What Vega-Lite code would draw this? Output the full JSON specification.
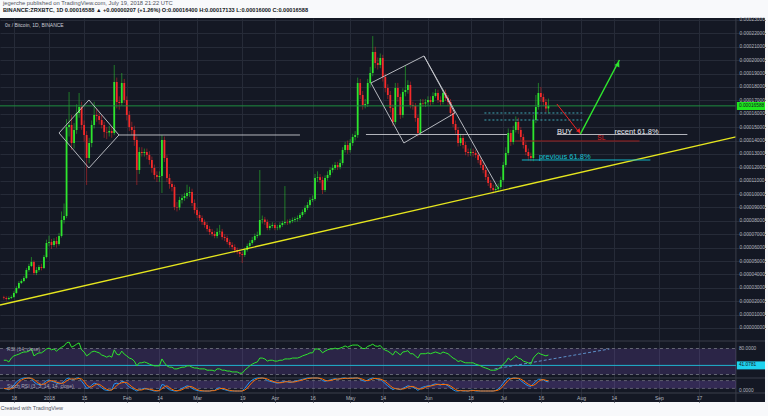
{
"$schema": "https://vega.github.io/schema/vega-lite/v6.json",
"autosize": {"type": "none"},
"width": 765,
"height": 384,
"padding": {"left": 0, "top": 18, "right": 3, "bottom": 14},
"background": "#f8f9fb",
"title": {
  "text": "jegerche published on TradingView.com, July 19, 2018 21:22 UTC",
  "subtitle": "BINANCE:ZRXBTC, 1D  0.00016588 ▲ +0.00000207 (+1.26%)  O:0.00016400  H:0.00017133  L:0.00016000  C:0.00016588",
  "anchor": "start", "frame": "group", "dx": 3, "offset": 3,
  "font": "Liberation Sans", "fontSize": 5.8, "fontWeight": "normal", "color": "#50535e",
  "subtitleFont": "Liberation Sans", "subtitleFontSize": 5.6, "subtitleFontWeight": "bold", "subtitleColor": "#131722", "subtitlePadding": 2.5
},
"config": {"view": {"fill": "#141824", "stroke": null}, "font": "Liberation Sans"},
"datasets": {
"candles": [
{"d":"2017-12-14","o":2290,"h":2410,"l":2120,"c":2240,"r":53,"k":20,"s":20},
{"d":"2017-12-15","o":2240,"h":2360,"l":2050,"c":2166,"r":53,"k":15,"s":18},
{"d":"2017-12-16","o":2166,"h":2360,"l":2090,"c":2240,"r":49,"k":10,"s":15},
{"d":"2017-12-17","o":2240,"h":2440,"l":2160,"c":2315,"r":58,"k":25,"s":17},
{"d":"2017-12-18","o":2315,"h":2750,"l":2250,"c":2614,"r":63,"k":45,"s":27},
{"d":"2017-12-19","o":2614,"h":3120,"l":2550,"c":2987,"r":65,"k":70,"s":47},
{"d":"2017-12-20","o":2987,"h":3500,"l":2900,"c":3361,"r":67,"k":85,"s":67},
{"d":"2017-12-21","o":3361,"h":3650,"l":3280,"c":3510,"r":70,"k":95,"s":83},
{"d":"2017-12-22","o":3510,"h":3880,"l":3420,"c":3734,"r":72,"k":100,"s":93},
{"d":"2017-12-23","o":3734,"h":4480,"l":3650,"c":4331,"r":72,"k":100,"s":98},
{"d":"2017-12-24","o":4331,"h":4800,"l":4200,"c":4630,"r":74,"k":100,"s":100},
{"d":"2017-12-25","o":4630,"h":5300,"l":4550,"c":4929,"r":79,"k":95,"s":98},
{"d":"2017-12-26","o":4929,"h":5050,"l":3950,"c":4107,"r":63,"k":70,"s":88},
{"d":"2017-12-27","o":4107,"h":4550,"l":3950,"c":4331,"r":67,"k":55,"s":73},
{"d":"2017-12-28","o":4331,"h":4700,"l":4200,"c":4555,"r":70,"k":50,"s":58},
{"d":"2017-12-29","o":4555,"h":4800,"l":4300,"c":4481,"r":70,"k":45,"s":50},
{"d":"2017-12-30","o":4481,"h":5450,"l":4400,"c":5302,"r":74,"k":65,"s":53},
{"d":"2017-12-31","o":5302,"h":6600,"l":5200,"c":6348,"r":79,"k":80,"s":63},
{"d":"2018-01-01","o":6348,"h":6900,"l":6100,"c":6422,"r":81,"k":85,"s":77},
{"d":"2018-01-02","o":6422,"h":6650,"l":5900,"c":6198,"r":77,"k":75,"s":80},
{"d":"2018-01-03","o":6198,"h":6700,"l":6050,"c":6497,"r":79,"k":70,"s":77},
{"d":"2018-01-04","o":6497,"h":6800,"l":6000,"c":6273,"r":74,"k":60,"s":68},
{"d":"2018-01-05","o":6273,"h":7100,"l":6150,"c":6871,"r":79,"k":55,"s":62},
{"d":"2018-01-06","o":6871,"h":8700,"l":6750,"c":8065,"r":83,"k":60,"s":58},
{"d":"2018-01-07","o":8065,"h":9300,"l":7800,"c":8364,"r":86,"k":75,"s":63},
{"d":"2018-01-08","o":8364,"h":15600,"l":8200,"c":15011,"r":93,"k":95,"s":77},
{"d":"2018-01-09","o":15011,"h":17624,"l":14300,"c":15160,"r":95,"k":100,"s":90},
{"d":"2018-01-10","o":15160,"h":15900,"l":13300,"c":13816,"r":83,"k":85,"s":93},
{"d":"2018-01-11","o":13816,"h":15300,"l":13400,"c":14787,"r":86,"k":90,"s":92},
{"d":"2018-01-12","o":14787,"h":16700,"l":14500,"c":16056,"r":90,"k":100,"s":92},
{"d":"2018-01-13","o":16056,"h":17550,"l":15700,"c":16504,"r":93,"k":100,"s":97},
{"d":"2018-01-14","o":16504,"h":16900,"l":14800,"c":15160,"r":77,"k":75,"s":92},
{"d":"2018-01-15","o":15160,"h":15500,"l":13900,"c":14413,"r":72,"k":50,"s":75},
{"d":"2018-01-16","o":14413,"h":14700,"l":10680,"c":12696,"r":63,"k":20,"s":48},
{"d":"2018-01-17","o":12696,"h":14200,"l":12300,"c":13816,"r":67,"k":25,"s":32},
{"d":"2018-01-18","o":13816,"h":15500,"l":13500,"c":15160,"r":72,"k":45,"s":30},
{"d":"2018-01-19","o":15160,"h":16900,"l":14900,"c":15907,"r":74,"k":60,"s":43},
{"d":"2018-01-20","o":15907,"h":16400,"l":15400,"c":15830,"r":72,"k":55,"s":53},
{"d":"2018-01-21","o":15830,"h":16100,"l":15200,"c":15533,"r":70,"k":40,"s":52},
{"d":"2018-01-22","o":15533,"h":15900,"l":14900,"c":15160,"r":65,"k":25,"s":40},
{"d":"2018-01-23","o":15160,"h":15400,"l":14200,"c":14637,"r":63,"k":10,"s":25},
{"d":"2018-01-24","o":14637,"h":15000,"l":14100,"c":14600,"r":60,"k":5,"s":13},
{"d":"2018-01-25","o":14600,"h":15100,"l":14300,"c":14712,"r":63,"k":5,"s":7},
{"d":"2018-01-26","o":14712,"h":15000,"l":14200,"c":14563,"r":60,"k":10,"s":7},
{"d":"2018-01-27","o":14563,"h":19641,"l":14400,"c":18371,"r":77,"k":55,"s":23},
{"d":"2018-01-28","o":18371,"h":18700,"l":16400,"c":16878,"r":67,"k":60,"s":42},
{"d":"2018-01-29","o":16878,"h":17300,"l":16300,"c":16803,"r":65,"k":55,"s":57},
{"d":"2018-01-30","o":16803,"h":19043,"l":16600,"c":18297,"r":74,"k":75,"s":63},
{"d":"2018-01-31","o":18297,"h":18600,"l":16800,"c":17027,"r":67,"k":70,"s":67},
{"d":"2018-02-01","o":17027,"h":17300,"l":15500,"c":15907,"r":63,"k":50,"s":65},
{"d":"2018-02-02","o":15907,"h":16200,"l":14700,"c":15011,"r":58,"k":30,"s":50},
{"d":"2018-02-03","o":15011,"h":15400,"l":14400,"c":14787,"r":56,"k":20,"s":33},
{"d":"2018-02-04","o":14787,"h":15100,"l":13600,"c":14040,"r":51,"k":10,"s":20},
{"d":"2018-02-05","o":14040,"h":14300,"l":10680,"c":11799,"r":40,"k":0,"s":10},
{"d":"2018-02-06","o":11799,"h":13500,"l":11500,"c":13144,"r":47,"k":10,"s":7},
{"d":"2018-02-07","o":13144,"h":13500,"l":12800,"c":13069,"r":47,"k":15,"s":8},
{"d":"2018-02-08","o":13069,"h":13400,"l":12800,"c":13144,"r":49,"k":20,"s":15},
{"d":"2018-02-09","o":13144,"h":13400,"l":12600,"c":12920,"r":47,"k":15,"s":17},
{"d":"2018-02-10","o":12920,"h":13200,"l":12200,"c":12546,"r":44,"k":10,"s":15},
{"d":"2018-02-11","o":12546,"h":12800,"l":11600,"c":11949,"r":42,"k":5,"s":10},
{"d":"2018-02-12","o":11949,"h":12200,"l":11100,"c":11426,"r":40,"k":0,"s":5},
{"d":"2018-02-13","o":11426,"h":11700,"l":10900,"c":11277,"r":40,"k":0,"s":2},
{"d":"2018-02-14","o":11277,"h":11700,"l":10900,"c":11351,"r":40,"k":5,"s":2},
{"d":"2018-02-15","o":11351,"h":14400,"l":10082,"c":14040,"r":56,"k":50,"s":18},
{"d":"2018-02-16","o":14040,"h":14300,"l":12400,"c":12696,"r":47,"k":45,"s":33},
{"d":"2018-02-17","o":12696,"h":12900,"l":10900,"c":11202,"r":40,"k":25,"s":40},
{"d":"2018-02-18","o":11202,"h":11500,"l":10400,"c":10754,"r":37,"k":10,"s":27},
{"d":"2018-02-19","o":10754,"h":11000,"l":10200,"c":10530,"r":37,"k":5,"s":13},
{"d":"2018-02-20","o":10530,"h":10700,"l":8800,"c":9036,"r":33,"k":0,"s":5},
{"d":"2018-02-21","o":9036,"h":9400,"l":8700,"c":9000,"r":33,"k":0,"s":2},
{"d":"2018-02-22","o":9000,"h":9800,"l":8800,"c":9559,"r":35,"k":10,"s":3},
{"d":"2018-02-23","o":9559,"h":9950,"l":9300,"c":9708,"r":37,"k":20,"s":10},
{"d":"2018-02-24","o":9708,"h":10100,"l":9500,"c":9858,"r":37,"k":30,"s":20},
{"d":"2018-02-25","o":9858,"h":10700,"l":9650,"c":10082,"r":40,"k":40,"s":30},
{"d":"2018-02-26","o":10082,"h":10550,"l":9800,"c":10156,"r":40,"k":35,"s":35},
{"d":"2018-02-27","o":10156,"h":10400,"l":9100,"c":9335,"r":37,"k":20,"s":32},
{"d":"2018-02-28","o":9335,"h":9600,"l":8550,"c":8812,"r":35,"k":10,"s":22},
{"d":"2018-03-01","o":8812,"h":9000,"l":8200,"c":8439,"r":35,"k":5,"s":12},
{"d":"2018-03-02","o":8439,"h":8700,"l":8000,"c":8215,"r":33,"k":0,"s":5},
{"d":"2018-03-03","o":8215,"h":8400,"l":7700,"c":7916,"r":33,"k":0,"s":2},
{"d":"2018-03-04","o":7916,"h":8100,"l":7500,"c":7692,"r":33,"k":0,"s":0},
{"d":"2018-03-05","o":7692,"h":7900,"l":7200,"c":7393,"r":30,"k":0,"s":0},
{"d":"2018-03-06","o":7393,"h":7600,"l":6950,"c":7169,"r":30,"k":0,"s":0},
{"d":"2018-03-07","o":7169,"h":7400,"l":6850,"c":7020,"r":30,"k":5,"s":2},
{"d":"2018-03-08","o":7020,"h":7250,"l":6700,"c":6871,"r":28,"k":5,"s":3},
{"d":"2018-03-09","o":6871,"h":7450,"l":6700,"c":7169,"r":33,"k":20,"s":10},
{"d":"2018-03-10","o":7169,"h":7700,"l":7000,"c":7200,"r":33,"k":25,"s":17},
{"d":"2018-03-11","o":7200,"h":7400,"l":6600,"c":6796,"r":30,"k":15,"s":20},
{"d":"2018-03-12","o":6796,"h":7000,"l":6500,"c":6721,"r":30,"k":10,"s":17},
{"d":"2018-03-13","o":6721,"h":6900,"l":6250,"c":6422,"r":28,"k":5,"s":10},
{"d":"2018-03-14","o":6422,"h":6600,"l":6000,"c":6198,"r":28,"k":0,"s":5},
{"d":"2018-03-15","o":6198,"h":6400,"l":5850,"c":6049,"r":26,"k":0,"s":2},
{"d":"2018-03-16","o":6049,"h":6250,"l":5600,"c":5825,"r":26,"k":0,"s":0},
{"d":"2018-03-17","o":5825,"h":6000,"l":5500,"c":5676,"r":26,"k":0,"s":0},
{"d":"2018-03-18","o":5676,"h":5850,"l":5300,"c":5526,"r":23,"k":0,"s":0},
{"d":"2018-03-19","o":5526,"h":5700,"l":4854,"c":5452,"r":23,"k":0,"s":0},
{"d":"2018-03-20","o":5452,"h":6000,"l":5300,"c":5825,"r":30,"k":20,"s":7},
{"d":"2018-03-21","o":5825,"h":6300,"l":5700,"c":6124,"r":35,"k":45,"s":22},
{"d":"2018-03-22","o":6124,"h":6550,"l":6000,"c":6348,"r":40,"k":70,"s":45},
{"d":"2018-03-23","o":6348,"h":6800,"l":6200,"c":6572,"r":44,"k":85,"s":67},
{"d":"2018-03-24","o":6572,"h":7050,"l":6450,"c":6871,"r":47,"k":95,"s":83},
{"d":"2018-03-25","o":6871,"h":7200,"l":6700,"c":6945,"r":49,"k":100,"s":93},
{"d":"2018-03-26","o":6945,"h":11799,"l":6850,"c":8065,"r":58,"k":100,"s":98},
{"d":"2018-03-27","o":8065,"h":8400,"l":7800,"c":8100,"r":58,"k":100,"s":100},
{"d":"2018-03-28","o":8100,"h":8300,"l":7700,"c":7916,"r":56,"k":95,"s":98},
{"d":"2018-03-29","o":7916,"h":8100,"l":7300,"c":7468,"r":51,"k":80,"s":92},
{"d":"2018-03-30","o":7468,"h":7800,"l":7300,"c":7617,"r":53,"k":75,"s":83},
{"d":"2018-03-31","o":7617,"h":7900,"l":7450,"c":7692,"r":53,"k":70,"s":75},
{"d":"2018-04-01","o":7692,"h":7850,"l":7300,"c":7468,"r":51,"k":65,"s":70},
{"d":"2018-04-02","o":7468,"h":7700,"l":7300,"c":7500,"r":51,"k":60,"s":65},
{"d":"2018-04-03","o":7500,"h":7900,"l":7350,"c":7692,"r":53,"k":65,"s":63},
{"d":"2018-04-04","o":7692,"h":8000,"l":7550,"c":7841,"r":53,"k":70,"s":65},
{"d":"2018-04-05","o":7841,"h":10600,"l":7700,"c":7916,"r":56,"k":75,"s":70},
{"d":"2018-04-06","o":7916,"h":8100,"l":7700,"c":7880,"r":56,"k":70,"s":72},
{"d":"2018-04-07","o":7880,"h":8150,"l":7750,"c":7991,"r":56,"k":65,"s":70},
{"d":"2018-04-08","o":7991,"h":8250,"l":7850,"c":8065,"r":58,"k":70,"s":68},
{"d":"2018-04-09","o":8065,"h":8300,"l":7900,"c":8140,"r":58,"k":75,"s":70},
{"d":"2018-04-10","o":8140,"h":8400,"l":7950,"c":8215,"r":58,"k":80,"s":75},
{"d":"2018-04-11","o":8215,"h":8600,"l":8050,"c":8439,"r":60,"k":85,"s":80},
{"d":"2018-04-12","o":8439,"h":8850,"l":8300,"c":8663,"r":63,"k":90,"s":85},
{"d":"2018-04-13","o":8663,"h":9150,"l":8500,"c":8962,"r":65,"k":95,"s":90},
{"d":"2018-04-14","o":8962,"h":9400,"l":8800,"c":9186,"r":67,"k":100,"s":95},
{"d":"2018-04-15","o":9186,"h":9750,"l":9050,"c":9559,"r":70,"k":100,"s":98},
{"d":"2018-04-16","o":9559,"h":9900,"l":9400,"c":9634,"r":70,"k":100,"s":100},
{"d":"2018-04-17","o":9634,"h":11500,"l":9500,"c":11202,"r":79,"k":100,"s":100},
{"d":"2018-04-18","o":11202,"h":11700,"l":10900,"c":11250,"r":79,"k":100,"s":100},
{"d":"2018-04-19","o":11250,"h":11500,"l":10800,"c":11053,"r":77,"k":95,"s":98},
{"d":"2018-04-20","o":11053,"h":11300,"l":10000,"c":10306,"r":70,"k":80,"s":92},
{"d":"2018-04-21","o":10306,"h":11400,"l":10150,"c":11202,"r":74,"k":75,"s":83},
{"d":"2018-04-22","o":11202,"h":11700,"l":11000,"c":11426,"r":77,"k":80,"s":78},
{"d":"2018-04-23","o":11426,"h":12000,"l":11250,"c":11799,"r":79,"k":85,"s":80},
{"d":"2018-04-24","o":11799,"h":12200,"l":11600,"c":11949,"r":79,"k":90,"s":85},
{"d":"2018-04-25","o":11949,"h":12400,"l":11800,"c":12173,"r":81,"k":95,"s":90},
{"d":"2018-04-26","o":12173,"h":12400,"l":11800,"c":12023,"r":79,"k":90,"s":92},
{"d":"2018-04-27","o":12023,"h":12600,"l":11850,"c":12322,"r":81,"k":95,"s":93},
{"d":"2018-04-28","o":12322,"h":13500,"l":12150,"c":13293,"r":83,"k":100,"s":95},
{"d":"2018-04-29","o":13293,"h":13900,"l":13100,"c":13666,"r":86,"k":100,"s":98},
{"d":"2018-04-30","o":13666,"h":14000,"l":13000,"c":13293,"r":83,"k":95,"s":98},
{"d":"2018-05-01","o":13293,"h":14100,"l":13100,"c":13816,"r":86,"k":100,"s":98},
{"d":"2018-05-02","o":13816,"h":14500,"l":13600,"c":14264,"r":88,"k":100,"s":98},
{"d":"2018-05-03","o":14264,"h":14700,"l":14000,"c":14413,"r":88,"k":100,"s":100},
{"d":"2018-05-04","o":14413,"h":18700,"l":14200,"c":18297,"r":88,"k":100,"s":100},
{"d":"2018-05-05","o":18297,"h":18600,"l":17100,"c":17400,"r":84,"k":90,"s":97},
{"d":"2018-05-06","o":17400,"h":17700,"l":16300,"c":16654,"r":80,"k":80,"s":90},
{"d":"2018-05-07","o":16654,"h":17100,"l":16400,"c":16728,"r":80,"k":75,"s":82},
{"d":"2018-05-08","o":16728,"h":18600,"l":16500,"c":18297,"r":85,"k":85,"s":80},
{"d":"2018-05-09","o":18297,"h":19500,"l":18000,"c":19043,"r":87,"k":95,"s":85},
{"d":"2018-05-10","o":19043,"h":21800,"l":18800,"c":20612,"r":90,"k":100,"s":93},
{"d":"2018-05-11","o":20612,"h":21000,"l":19400,"c":19790,"r":86,"k":95,"s":97},
{"d":"2018-05-12","o":19790,"h":20200,"l":19300,"c":19641,"r":85,"k":90,"s":95},
{"d":"2018-05-13","o":19641,"h":20500,"l":19400,"c":20164,"r":87,"k":90,"s":92},
{"d":"2018-05-14","o":20164,"h":20400,"l":18400,"c":18745,"r":80,"k":75,"s":85},
{"d":"2018-05-15","o":18745,"h":19000,"l":17600,"c":17923,"r":76,"k":55,"s":73},
{"d":"2018-05-16","o":17923,"h":18200,"l":17100,"c":17400,"r":74,"k":40,"s":57},
{"d":"2018-05-17","o":17400,"h":17700,"l":16100,"c":16430,"r":70,"k":25,"s":40},
{"d":"2018-05-18","o":16430,"h":16700,"l":15100,"c":15384,"r":65,"k":10,"s":25},
{"d":"2018-05-19","o":15384,"h":18300,"l":15200,"c":17923,"r":74,"k":20,"s":18},
{"d":"2018-05-20","o":17923,"h":18300,"l":16900,"c":17251,"r":70,"k":15,"s":15},
{"d":"2018-05-21","o":17251,"h":17500,"l":15600,"c":15907,"r":65,"k":10,"s":15},
{"d":"2018-05-22","o":15907,"h":17900,"l":15700,"c":17624,"r":72,"k":20,"s":15},
{"d":"2018-05-23","o":17624,"h":19600,"l":17300,"c":17774,"r":73,"k":30,"s":20},
{"d":"2018-05-24","o":17774,"h":18500,"l":17500,"c":18147,"r":75,"k":40,"s":30},
{"d":"2018-05-25","o":18147,"h":18400,"l":16400,"c":16654,"r":68,"k":35,"s":35},
{"d":"2018-05-26","o":16654,"h":16900,"l":16300,"c":16579,"r":68,"k":30,"s":35},
{"d":"2018-05-27","o":16579,"h":16800,"l":15400,"c":15683,"r":63,"k":20,"s":28},
{"d":"2018-05-28","o":15683,"h":15900,"l":14300,"c":14563,"r":58,"k":5,"s":18},
{"d":"2018-05-29","o":14563,"h":17100,"l":14400,"c":16803,"r":68,"k":20,"s":15},
{"d":"2018-05-30","o":16803,"h":17100,"l":16500,"c":16760,"r":68,"k":30,"s":18},
{"d":"2018-05-31","o":16760,"h":17100,"l":16500,"c":16850,"r":68,"k":35,"s":28},
{"d":"2018-06-01","o":16850,"h":17300,"l":16600,"c":17027,"r":70,"k":40,"s":35},
{"d":"2018-06-02","o":17027,"h":17300,"l":16600,"c":16878,"r":68,"k":40,"s":38},
{"d":"2018-06-03","o":16878,"h":17600,"l":16700,"c":17326,"r":70,"k":50,"s":43},
{"d":"2018-06-04","o":17326,"h":17850,"l":17200,"c":17550,"r":72,"k":55,"s":48},
{"d":"2018-06-05","o":17550,"h":17800,"l":16800,"c":17027,"r":70,"k":50,"s":52},
{"d":"2018-06-06","o":17027,"h":17300,"l":16600,"c":16878,"r":68,"k":45,"s":50},
{"d":"2018-06-07","o":16878,"h":17800,"l":16700,"c":17550,"r":72,"k":55,"s":50},
{"d":"2018-06-08","o":17550,"h":17800,"l":16950,"c":17176,"r":70,"k":50,"s":50},
{"d":"2018-06-09","o":17176,"h":17400,"l":16600,"c":16878,"r":68,"k":40,"s":48},
{"d":"2018-06-10","o":16878,"h":17100,"l":15800,"c":16056,"r":63,"k":25,"s":38},
{"d":"2018-06-11","o":16056,"h":16300,"l":15000,"c":15235,"r":58,"k":10,"s":25},
{"d":"2018-06-12","o":15235,"h":15500,"l":14500,"c":14787,"r":55,"k":0,"s":12},
{"d":"2018-06-13","o":14787,"h":15000,"l":13550,"c":13816,"r":50,"k":0,"s":3},
{"d":"2018-06-14","o":13816,"h":14500,"l":13600,"c":14189,"r":52,"k":5,"s":2},
{"d":"2018-06-15","o":14189,"h":14400,"l":13400,"c":13666,"r":49,"k":0,"s":2},
{"d":"2018-06-16","o":13666,"h":13900,"l":12900,"c":13144,"r":47,"k":0,"s":2},
{"d":"2018-06-17","o":13144,"h":13400,"l":12800,"c":13069,"r":47,"k":0,"s":0},
{"d":"2018-06-18","o":13069,"h":13400,"l":12850,"c":13144,"r":47,"k":5,"s":2},
{"d":"2018-06-19","o":13144,"h":13400,"l":12800,"c":13069,"r":47,"k":5,"s":3},
{"d":"2018-06-20","o":13069,"h":13300,"l":12700,"c":12920,"r":44,"k":0,"s":3},
{"d":"2018-06-21","o":12920,"h":13150,"l":12300,"c":12546,"r":42,"k":0,"s":2},
{"d":"2018-06-22","o":12546,"h":12750,"l":11950,"c":12173,"r":40,"k":0,"s":0},
{"d":"2018-06-23","o":12173,"h":12400,"l":11550,"c":11799,"r":37,"k":0,"s":0},
{"d":"2018-06-24","o":11799,"h":12000,"l":11050,"c":11277,"r":35,"k":0,"s":0},
{"d":"2018-06-25","o":11277,"h":11500,"l":10600,"c":10829,"r":33,"k":0,"s":0},
{"d":"2018-06-26","o":10829,"h":11050,"l":10250,"c":10455,"r":30,"k":0,"s":0},
{"d":"2018-06-27","o":10455,"h":10700,"l":10050,"c":10306,"r":30,"k":0,"s":0},
{"d":"2018-06-28","o":10306,"h":10700,"l":10100,"c":10380,"r":30,"k":5,"s":2},
{"d":"2018-06-29","o":10380,"h":10800,"l":10150,"c":10530,"r":33,"k":15,"s":7},
{"d":"2018-06-30","o":10530,"h":11300,"l":10350,"c":11053,"r":37,"k":35,"s":18},
{"d":"2018-07-01","o":11053,"h":12400,"l":10900,"c":12173,"r":44,"k":60,"s":37},
{"d":"2018-07-02","o":12173,"h":13500,"l":12000,"c":13069,"r":49,"k":85,"s":60},
{"d":"2018-07-03","o":13069,"h":14900,"l":12900,"c":14563,"r":58,"k":100,"s":82},
{"d":"2018-07-04","o":14563,"h":14800,"l":13600,"c":13890,"r":53,"k":95,"s":93},
{"d":"2018-07-05","o":13890,"h":15100,"l":13700,"c":14787,"r":58,"k":100,"s":98},
{"d":"2018-07-06","o":14787,"h":15800,"l":14600,"c":15384,"r":63,"k":100,"s":98},
{"d":"2018-07-07","o":15384,"h":15700,"l":14500,"c":14787,"r":58,"k":95,"s":98},
{"d":"2018-07-08","o":14787,"h":15000,"l":14000,"c":14264,"r":56,"k":80,"s":92},
{"d":"2018-07-09","o":14264,"h":14500,"l":13400,"c":13666,"r":51,"k":65,"s":80},
{"d":"2018-07-10","o":13666,"h":13900,"l":12900,"c":13144,"r":49,"k":50,"s":65},
{"d":"2018-07-11","o":13144,"h":13400,"l":12500,"c":12845,"r":47,"k":40,"s":52},
{"d":"2018-07-12","o":12845,"h":13100,"l":12450,"c":12696,"r":44,"k":35,"s":42},
{"d":"2018-07-13","o":12696,"h":15900,"l":12450,"c":15533,"r":58,"k":55,"s":43},
{"d":"2018-07-14","o":15533,"h":17400,"l":15300,"c":16504,"r":65,"k":75,"s":55},
{"d":"2018-07-15","o":16504,"h":18300,"l":16300,"c":17550,"r":70,"k":90,"s":73},
{"d":"2018-07-16","o":17550,"h":18000,"l":16900,"c":17251,"r":67,"k":90,"s":85},
{"d":"2018-07-17","o":17251,"h":17500,"l":16600,"c":16878,"r":65,"k":85,"s":88},
{"d":"2018-07-18","o":16878,"h":17100,"l":16100,"c":16400,"r":63,"k":75,"s":83},
{"d":"2018-07-19","o":16400,"h":17133,"l":16000,"c":16588,"r":65,"k":70,"s":77}
],
"outline": [
{"g":"diamond","n":0,"t":"2018-01-05T00:00:00Z","p":14563},
{"g":"diamond","n":1,"t":"2018-01-16T22:00:00Z","p":17027},
{"g":"diamond","n":2,"t":"2018-01-28T21:00:00Z","p":14413},
{"g":"diamond","n":3,"t":"2018-01-16T22:00:00Z","p":11949},
{"g":"diamond","n":4,"t":"2018-01-05T00:00:00Z","p":14563},
{"g":"level1","n":0,"t":"2018-01-28T21:00:00Z","p":14413},
{"g":"level1","n":1,"t":"2018-04-11T00:00:00Z","p":14413},
{"g":"box","n":0,"t":"2018-05-09T07:00:00Z","p":18297},
{"g":"box","n":1,"t":"2018-05-30T10:00:00Z","p":20313},
{"g":"box","n":2,"t":"2018-06-11T18:00:00Z","p":16056},
{"g":"box","n":3,"t":"2018-05-22T10:00:00Z","p":13816},
{"g":"box","n":4,"t":"2018-05-09T07:00:00Z","p":18297},
{"g":"edge","n":0,"t":"2018-05-30T10:00:00Z","p":20313},
{"g":"edge","n":1,"t":"2018-06-28T17:00:00Z","p":10530},
{"g":"level2","n":0,"t":"2018-05-07T07:00:00Z","p":14450},
{"g":"level2","n":1,"t":"2018-07-02T12:00:00Z","p":14450},
{"g":"level3","n":0,"t":"2018-07-22T09:00:00Z","p":14450},
{"g":"level3","n":1,"t":"2018-09-12T09:00:00Z","p":14450}
],
"dots": [
{"g":"a","t":"2018-06-23T12:00:00Z","p":16056},
{"g":"a","t":"2018-08-01T12:00:00Z","p":16056},
{"g":"b","t":"2018-06-23T12:00:00Z","p":15533},
{"g":"b","t":"2018-08-01T12:00:00Z","p":15533}
],
"trend": [
{"t":"2017-12-12T11:30:00Z","p":1718},
{"t":"2018-10-01T17:00:00Z","p":14264}
],
"fib": [
{"t":"2018-07-08T10:00:00Z","p":12546},
{"t":"2018-08-28T15:00:00Z","p":12546}
],
"stop": [
{"t":"2018-07-05T17:00:00Z","p":13965},
{"t":"2018-08-24T07:00:00Z","p":13965}
],
"down": [
{"t":"2018-07-22T09:00:00Z","p":16728},
{"t":"2018-07-31T18:00:00Z","p":14488}
],
"up": [
{"t":"2018-07-31T18:00:00Z","p":14488},
{"t":"2018-08-16T07:00:00Z","p":20014}
],
"notes": [
{"t":"2018-07-22T09:00:00Z","p":14615,"label":"BUY"},
{"t":"2018-08-14T07:00:00Z","p":14615,"label":"recent 61.8%"}
],
"span": [
{"t0":"2017-12-12T11:00:00Z","t1":"2018-10-01T17:00:00Z"}
],
"pricecol": [
{"t0":"2018-10-02T02:00:00Z","t1":"2018-10-13T07:00:00Z","tl":"2018-10-02T22:00:00Z"}
]
},
"resolve": {"scale": {"y": "independent"}},
"layer": [
{
"layer": [
{"data": {"name": "candles"},
 "mark": {"type": "rule", "strokeWidth": 0.8, "opacity": 0.6},
 "encoding": {
  "x": {"field": "d", "type": "temporal",
   "scale": {"type": "utc", "domain": [1513078272000, 1539414720000], "padding": 0, "nice": false},
   "axis": {"orient": "bottom", "offset": -9,
    "values": [
     {"year": 2017, "month": 12, "date": 18, "utc": true},
     {"year": 2018, "month": 1, "date": 1, "utc": true},
     {"year": 2018, "month": 1, "date": 15, "utc": true},
     {"year": 2018, "month": 2, "date": 1, "utc": true},
     {"year": 2018, "month": 2, "date": 14, "utc": true},
     {"year": 2018, "month": 3, "date": 1, "utc": true},
     {"year": 2018, "month": 3, "date": 19, "utc": true},
     {"year": 2018, "month": 4, "date": 1, "utc": true},
     {"year": 2018, "month": 4, "date": 16, "utc": true},
     {"year": 2018, "month": 5, "date": 1, "utc": true},
     {"year": 2018, "month": 5, "date": 14, "utc": true},
     {"year": 2018, "month": 6, "date": 1, "utc": true},
     {"year": 2018, "month": 6, "date": 18, "utc": true},
     {"year": 2018, "month": 7, "date": 1, "utc": true},
     {"year": 2018, "month": 7, "date": 16, "utc": true},
     {"year": 2018, "month": 8, "date": 1, "utc": true},
     {"year": 2018, "month": 8, "date": 14, "utc": true},
     {"year": 2018, "month": 9, "date": 1, "utc": true},
     {"year": 2018, "month": 9, "date": 17, "utc": true}
    ],
    "labelExpr": "utcdate(datum.value) == 1 ? (utcmonth(datum.value) == 0 ? utcFormat(datum.value, '%Y') : utcFormat(datum.value, '%b')) : utcFormat(datum.value, '%-d')",
    "labelFont": "Liberation Sans", "labelFontSize": 5, "labelColor": "#b2b5be", "labelPadding": 2,
    "labelOverlap": false, "labelFlush": false,
    "domain": false, "ticks": false, "grid": true, "gridColor": "#262b38", "gridWidth": 1,
    "title": "Created with  TradingView", "titleFont": "Liberation Sans", "titleFontSize": 5.5,
    "titleFontWeight": "normal", "titleColor": "#50535e", "titleAnchor": "start", "titleAlign": "left", "titlePadding": 5}},
  "y": {"field": "l", "type": "quantitative",
   "scale": {"domain": [-5526, 23149], "nice": false, "zero": false},
   "axis": {"orient": "right", "offset": -29,
    "tickCount": 30,
    "labelExpr": "datum.value < 0 ? '' : format(datum.value / 100000000, '.8f')",
    "labelFont": "Liberation Sans", "labelFontSize": 4.8, "labelColor": "#b2b5be", "labelPadding": 3,
    "labelOverlap": false, "labelFlush": false,
    "domain": false, "ticks": false, "grid": true, "gridColor": "#262b38",
    "gridOpacity": {"condition": {"test": "datum.value < 0", "value": 0}, "value": 1},
    "title": null}},
  "y2": {"field": "h"},
  "color": {"condition": {"test": "datum.c >= datum.o", "value": "#2ee62e"}, "value": "#f52a2a"}
 }},
{"data": {"name": "candles"},
 "mark": {"type": "bar", "width": 1.8},
 "encoding": {
  "x": {"field": "d", "type": "temporal"},
  "y": {"field": "o", "type": "quantitative"},
  "y2": {"field": "c"},
  "color": {"condition": {"test": "datum.c >= datum.o", "value": "#2ee62e"}, "value": "#f52a2a"}
 }},
{"data": {"name": "span"},
 "mark": {"type": "rule", "color": "#1e8e3e", "strokeWidth": 1},
 "encoding": {"x": {"field": "t0", "type": "temporal"}, "x2": {"field": "t1"}, "y": {"datum": 16588, "type": "quantitative"}}},
{"data": {"name": "trend"},
 "mark": {"type": "line", "color": "#e6e61e", "strokeWidth": 1.3},
 "encoding": {"x": {"field": "t", "type": "temporal"}, "y": {"field": "p", "type": "quantitative"}}},
{"data": {"name": "outline"},
 "mark": {"type": "line", "color": "#c7c9cf", "strokeWidth": 0.9},
 "encoding": {"x": {"field": "t", "type": "temporal"}, "y": {"field": "p", "type": "quantitative"}, "detail": {"field": "g"}, "order": {"field": "n"}}},
{"data": {"name": "dots"},
 "mark": {"type": "line", "color": "#3fa7b5", "strokeWidth": 1, "strokeDash": [2, 2]},
 "encoding": {"x": {"field": "t", "type": "temporal"}, "y": {"field": "p", "type": "quantitative"}, "detail": {"field": "g"}}},
{"data": {"name": "fib"},
 "mark": {"type": "line", "color": "#12b6c6", "strokeWidth": 1},
 "encoding": {"x": {"field": "t", "type": "temporal"}, "y": {"field": "p", "type": "quantitative"}}},
{"data": {"name": "stop"},
 "mark": {"type": "line", "color": "#9c1f1f", "strokeWidth": 1},
 "encoding": {"x": {"field": "t", "type": "temporal"}, "y": {"field": "p", "type": "quantitative"}}},
{"data": {"name": "down"},
 "mark": {"type": "line", "color": "#ee2222", "strokeWidth": 1},
 "encoding": {"x": {"field": "t", "type": "temporal"}, "y": {"field": "p", "type": "quantitative"}}},
{"data": {"name": "up"},
 "mark": {"type": "line", "color": "#2ee62e", "strokeWidth": 1.5},
 "encoding": {"x": {"field": "t", "type": "temporal"}, "y": {"field": "p", "type": "quantitative"}}},
{"data": {"values": [{"t": "2018-07-31T06:00:00Z", "p": 14700}]},
 "mark": {"type": "point", "shape": "triangle-up", "filled": true, "color": "#ee2222", "size": 22, "angle": 139, "opacity": 1},
 "encoding": {"x": {"field": "t", "type": "temporal"}, "y": {"field": "p", "type": "quantitative"}}},
{"data": {"values": [{"t": "2018-08-15T18:00:00Z", "p": 19700}]},
 "mark": {"type": "point", "shape": "triangle-up", "filled": true, "color": "#2ee62e", "size": 30, "angle": 28, "opacity": 1},
 "encoding": {"x": {"field": "t", "type": "temporal"}, "y": {"field": "p", "type": "quantitative"}}},
{"data": {"name": "notes"},
 "mark": {"type": "text", "align": "left", "baseline": "middle", "color": "#e6e8ee", "fontSize": 7.5, "font": "Liberation Sans"},
 "encoding": {"x": {"field": "t", "type": "temporal"}, "y": {"field": "p", "type": "quantitative"}, "text": {"field": "label"}}},
{"data": {"values": [{"t": "2018-07-15T05:00:00Z", "p": 12793, "label": "previous 61.8%"}]},
 "mark": {"type": "text", "align": "left", "baseline": "middle", "color": "#19c3d3", "fontSize": 7.5, "font": "Liberation Sans"},
 "encoding": {"x": {"field": "t", "type": "temporal"}, "y": {"field": "p", "type": "quantitative"}, "text": {"field": "label"}}},
{"data": {"values": [{"t": "2018-08-07T12:00:00Z", "p": 14189, "label": "SL"}]},
 "mark": {"type": "text", "align": "left", "baseline": "middle", "color": "#e02020", "fontSize": 6.5, "font": "Liberation Sans"},
 "encoding": {"x": {"field": "t", "type": "temporal"}, "y": {"field": "p", "type": "quantitative"}, "text": {"field": "label"}}},
{"data": {"values": [{"t": "2017-12-14T12:00:00Z", "p": 22628, "label": "0x / Bitcoin, 1D, BINANCE"}]},
 "mark": {"type": "text", "align": "left", "baseline": "middle", "color": "#c9ccd4", "fontSize": 5, "font": "Liberation Sans"},
 "encoding": {"x": {"field": "t", "type": "temporal"}, "y": {"field": "p", "type": "quantitative"}, "text": {"field": "label"}}},
{"data": {"name": "pricecol"},
 "mark": {"type": "rect", "color": "#1ee61e"},
 "encoding": {"x": {"field": "t0", "type": "temporal"}, "x2": {"field": "t1"}, "y": {"datum": 16280, "type": "quantitative"}, "y2": {"datum": 16878}}},
{"data": {"name": "pricecol"},
 "mark": {"type": "text", "align": "left", "baseline": "middle", "color": "#131722", "fontSize": 4.8, "font": "Liberation Sans"},
 "encoding": {"x": {"field": "tl", "type": "temporal"}, "y": {"datum": 16588, "type": "quantitative"}, "text": {"value": "0.00016588"}}},
{"data": {"values": [{"t": "2018-10-01T17:00:00Z"}]},
 "mark": {"type": "rule", "color": "#3a3e4a", "strokeWidth": 1},
 "encoding": {"x": {"field": "t", "type": "temporal"}}}
]
},
{
"layer": [
{"data": {"name": "span"},
 "mark": {"type": "rect", "color": "#7e57c2", "opacity": 0.22},
 "encoding": {"x": {"field": "t0", "type": "temporal"}, "x2": {"field": "t1"},
  "y": {"datum": 80, "type": "quantitative", "scale": {"domain": [-43.4, 842.8], "nice": false, "zero": false}, "axis": null},
  "y2": {"datum": 20}}},
{"data": {"name": "span"},
 "mark": {"type": "rule", "color": "#787b86", "strokeWidth": 0.8, "strokeDash": [3, 3]},
 "encoding": {"x": {"field": "t0", "type": "temporal"}, "x2": {"field": "t1"}, "y": {"datum": 80, "type": "quantitative", "axis": null}}},
{"data": {"name": "span"},
 "mark": {"type": "rule", "color": "#787b86", "strokeWidth": 0.8, "strokeDash": [3, 3]},
 "encoding": {"x": {"field": "t0", "type": "temporal"}, "x2": {"field": "t1"}, "y": {"datum": 20, "type": "quantitative", "axis": null}}},
{"data": {"name": "span"},
 "mark": {"type": "rule", "color": "#1fb3cf", "strokeWidth": 1},
 "encoding": {"x": {"field": "t0", "type": "temporal"}, "x2": {"field": "t1"}, "y": {"datum": 41.0781, "type": "quantitative", "axis": null}}},
{"data": {"values": [{"t": "2018-06-27T12:00:00Z", "v": 32.8}, {"t": "2018-08-12T07:00:00Z", "v": 78.9}]},
 "mark": {"type": "line", "color": "#5d8fc7", "strokeWidth": 1, "strokeDash": [3, 2]},
 "encoding": {"x": {"field": "t", "type": "temporal"}, "y": {"field": "v", "type": "quantitative", "axis": null}}},
{"data": {"name": "candles"},
 "mark": {"type": "line", "color": "#2ee62e", "strokeWidth": 1},
 "encoding": {"x": {"field": "d", "type": "temporal"}, "y": {"field": "r", "type": "quantitative", "axis": null}}},
{"data": {"values": [{"t": "2017-12-15T07:00:00Z", "v": 79, "label": "RSI (14, close)"}]},
 "mark": {"type": "text", "align": "left", "baseline": "middle", "color": "#a3a6af", "fontSize": 5, "font": "Liberation Sans"},
 "encoding": {"x": {"field": "t", "type": "temporal"}, "y": {"field": "v", "type": "quantitative", "axis": null}, "text": {"field": "label"}}},
{"data": {"name": "pricecol"},
 "mark": {"type": "text", "align": "left", "baseline": "middle", "color": "#b2b5be", "fontSize": 4.8, "font": "Liberation Sans"},
 "encoding": {"x": {"field": "tl", "type": "temporal"}, "y": {"datum": 80, "type": "quantitative", "axis": null}, "text": {"value": "80.0000"}}},
{"data": {"name": "pricecol"},
 "mark": {"type": "rect", "color": "#1ed2ee"},
 "encoding": {"x": {"field": "t0", "type": "temporal"}, "x2": {"field": "t1"}, "y": {"datum": 50.3, "type": "quantitative", "axis": null}, "y2": {"datum": 31.9}}},
{"data": {"name": "pricecol"},
 "mark": {"type": "text", "align": "left", "baseline": "middle", "color": "#131722", "fontSize": 4.8, "font": "Liberation Sans"},
 "encoding": {"x": {"field": "tl", "type": "temporal"}, "y": {"datum": 41.0781, "type": "quantitative", "axis": null}, "text": {"value": "41.0781"}}},
{"data": {"values": [{"v": 97.4}, {"v": 12}]},
 "mark": {"type": "rule", "color": "#3a3e4a", "strokeWidth": 1},
 "encoding": {"y": {"field": "v", "type": "quantitative", "axis": null}}}
]
},
{
"layer": [
{"data": {"name": "span"},
 "mark": {"type": "rect", "color": "#7e57c2", "opacity": 0.3},
 "encoding": {"x": {"field": "t0", "type": "temporal"}, "x2": {"field": "t1"},
  "y": {"datum": 80, "type": "quantitative", "scale": {"domain": [-84.6, 2869.2], "nice": false, "zero": false}, "axis": null},
  "y2": {"datum": 20}}},
{"data": {"name": "span"},
 "mark": {"type": "rule", "color": "#787b86", "strokeWidth": 0.7, "strokeDash": [3, 3]},
 "encoding": {"x": {"field": "t0", "type": "temporal"}, "x2": {"field": "t1"}, "y": {"datum": 80, "type": "quantitative", "axis": null}}},
{"data": {"name": "span"},
 "mark": {"type": "rule", "color": "#787b86", "strokeWidth": 0.7, "strokeDash": [3, 3]},
 "encoding": {"x": {"field": "t0", "type": "temporal"}, "x2": {"field": "t1"}, "y": {"datum": 20, "type": "quantitative", "axis": null}}},
{"data": {"name": "candles"},
 "mark": {"type": "line", "color": "#2196f3", "strokeWidth": 1},
 "encoding": {"x": {"field": "d", "type": "temporal"}, "y": {"field": "k", "type": "quantitative", "axis": null}}},
{"data": {"name": "candles"},
 "mark": {"type": "line", "color": "#ff6d00", "strokeWidth": 1},
 "encoding": {"x": {"field": "d", "type": "temporal"}, "y": {"field": "s", "type": "quantitative", "axis": null}}},
{"data": {"values": [{"t": "2017-12-15T07:00:00Z", "v": 40, "label": "Stoch RSI (3, 3, 14, 14, close)"}]},
 "mark": {"type": "text", "align": "left", "baseline": "middle", "color": "#a3a6af", "fontSize": 5, "font": "Liberation Sans"},
 "encoding": {"x": {"field": "t", "type": "temporal"}, "y": {"field": "v", "type": "quantitative", "axis": null}, "text": {"field": "label"}}},
{"data": {"name": "pricecol"},
 "mark": {"type": "text", "align": "left", "baseline": "middle", "color": "#b2b5be", "fontSize": 4.8, "font": "Liberation Sans"},
 "encoding": {"x": {"field": "tl", "type": "temporal"}, "y": {"datum": 0, "type": "quantitative", "axis": null}, "text": {"value": "0.0000"}}},
{"data": {"values": [{"v": -15.4}]},
 "mark": {"type": "rule", "color": "#3a3e4a", "strokeWidth": 1},
 "encoding": {"y": {"field": "v", "type": "quantitative", "axis": null}}}
]
}
]
}
